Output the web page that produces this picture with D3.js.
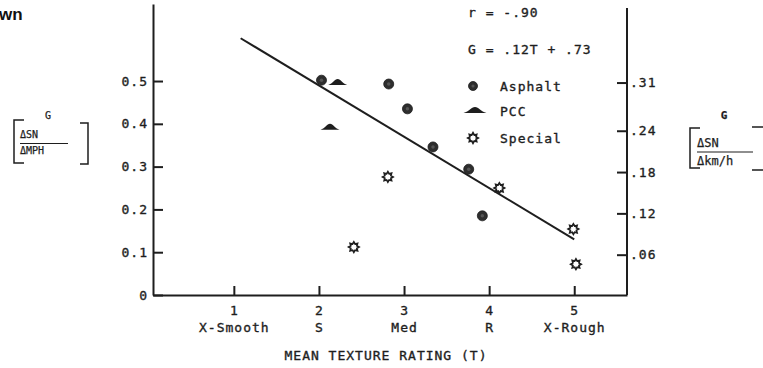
<!DOCTYPE html>
<html><head><meta charset="utf-8">
<script src="https://cdn.jsdelivr.net/npm/d3@7"></script>
<style>
html,body{margin:0;padding:0;background:#fff;}
svg{display:block;}
.t{font-family:"DejaVu Sans Mono",monospace;font-size:13px;letter-spacing:1px;fill:#1e1e1e;stroke:#1e1e1e;stroke-width:0.35px;}
.s{font-family:"DejaVu Sans Mono",monospace;fill:#1e1e1e;stroke:#1e1e1e;stroke-width:0.25px;}
</style></head>
<body>
<svg id="c" width="763" height="368"></svg>
<script>
// ---- data ----
const asphaltT = [2.03, 2.82, 3.04, 3.34, 3.76, 3.92];
const asphaltG = [0.502, 0.493, 0.435, 0.346, 0.294, 0.185];
const pccT = [2.22, 2.13];
const pccG = [0.498, 0.393];
const specialT = [2.41, 2.81, 4.12, 4.99, 5.02];
const specialG = [0.112, 0.276, 0.250, 0.154, 0.072];
const lineT = [1.08, 5.0];
const lineG = [0.600, 0.130];
const xTicks = [1, 2, 3, 4, 5];
const xCats = ["X-Smooth", "S", "Med", "R", "X-Rough"];
const yTicksLeft = [0, 0.1, 0.2, 0.3, 0.4, 0.5];
const yTicksRight = [0.06, 0.12, 0.18, 0.24, 0.31];
const legendNames = ["Asphalt", "PCC", "Special"];
const mphToKmh = 1.609;

const ink = "#1e1e1e";
const svg = d3.select("#c");

const x = d3.scaleLinear().domain([0.05, 5.62]).range([153, 627]);
const y = d3.scaleLinear().domain([0, 0.68]).range([295, 4]);
const yR = d3.scaleLinear().domain([0, 0.68 / mphToKmh]).range([295, 4]);

function styleAxis(g){
  g.selectAll("path.domain").attr("stroke", ink).attr("stroke-width", 2);
  g.selectAll(".tick line").attr("stroke", ink).attr("stroke-width", 2);
  g.selectAll(".tick text").attr("class","t").attr("fill", ink)
    .style("font-family","DejaVu Sans Mono").style("font-size","13px").style("letter-spacing","1px");
}

// left axis
const gL = svg.append("g").attr("transform", `translate(${x(0.05)},0)`)
  .call(d3.axisLeft(y).tickValues(yTicksLeft).tickSizeInner(-10).tickSizeOuter(0).tickPadding(5)
    .tickFormat(d => d === 0 ? "0" : d3.format(".1f")(d)));
styleAxis(gL);

// right axis
const gR = svg.append("g").attr("transform", `translate(${x(5.62)},${1})`)
  .call(d3.axisRight(yR).tickValues(yTicksRight).tickSizeInner(-10).tickSizeOuter(0).tickPadding(3)
    .tickFormat(d => d3.format(".2f")(d).replace(/^0/, "")));
styleAxis(gR);
gR.select("path.domain").attr("d", `M0,${yR(0)-1}V${yR(0.68/mphToKmh)+3}`);

// bottom axis
const gB = svg.append("g").attr("transform", `translate(0,${y(0)})`)
  .call(d3.axisBottom(x).tickValues(xTicks).tickSizeInner(-9).tickSizeOuter(0).tickPadding(11)
    .tickFormat(d3.format("d")));
styleAxis(gB);
gB.selectAll(".tick text").attr("dy", "0.71em");
gB.selectAll(".tick").append("text")
  .attr("class","t").attr("y", 28).attr("dy","0.71em").attr("text-anchor","middle")
  .attr("fill", ink)
  .text((d,i) => xCats[i]);

svg.append("text").attr("class","t").attr("x", 386).attr("y", 355)
  .attr("dominant-baseline","central").attr("text-anchor","middle")
  .text("MEAN TEXTURE RATING (T)");

// regression line
svg.append("line")
  .attr("x1", x(lineT[0])).attr("y1", y(lineG[0]))
  .attr("x2", x(lineT[1])).attr("y2", y(lineG[1]))
  .attr("stroke", ink).attr("stroke-width", 2);

// marker drawers
const domePath = (w,h) => `M${-w/2},0 C${-w/4},-1.5 ${-w/6},${-h} 0,${-h} C${w/6},${-h} ${w/4},-1.5 ${w/2},0 Z`;
const starPts = d3.range(16).map(i => [i * Math.PI * 2 / 16, i % 2 === 0 ? 5.2 : 3.3]);
const starPath = d3.lineRadial().curve(d3.curveLinearClosed)(starPts);

function asphalt(g, cx, cy, r){
  g.append("circle").attr("cx", cx).attr("cy", cy).attr("r", r).attr("fill", "#2e2e2e").attr("stroke", ink).attr("stroke-width", 0.8);
  g.append("circle").attr("cx", cx).attr("cy", cy).attr("r", r*0.35).attr("fill", "#555");
}
function pcc(g, cx, cy, w, h){
  g.append("path").attr("d", domePath(w,h)).attr("transform", `translate(${cx},${cy + h/2})`).attr("fill", ink);
}
function special(g, cx, cy){
  g.append("path").attr("d", starPath).attr("transform", `translate(${cx},${cy})`)
    .attr("fill", "#fff").attr("stroke", ink).attr("stroke-width", 1.7);
  g.append("circle").attr("cx", cx).attr("cy", cy).attr("r", 1.3).attr("fill", "#fff");
}

const gp = svg.append("g");
asphaltT.forEach((t,i) => asphalt(gp, x(t), y(asphaltG[i]), 5));
pccT.forEach((t,i) => pcc(gp, x(t), y(pccG[i]), 19, 6));
specialT.forEach((t,i) => special(gp, x(t), y(specialG[i])));

// annotations and legend
svg.append("text").attr("class","t").attr("x", 468).attr("y", 12).attr("dominant-baseline","central").text("r = -.90");
svg.append("text").attr("class","t").attr("x", 468).attr("y", 49).attr("dominant-baseline","central").text("G = .12T + .73");
const legY = [86, 111, 138];
asphalt(svg, 473, legY[0], 4.5);
pcc(svg, 475, legY[1] - 1, 23, 6);
special(svg, 473, legY[2]);
legendNames.forEach((n,i) => {
  svg.append("text").attr("class","t").attr("x", 500).attr("y", legY[i]).attr("dominant-baseline","central").text(n);
});

// fragment of title
svg.append("text").attr("x", -1).attr("y", 20)
  .style("font-family","Liberation Sans, Arial, sans-serif").style("font-weight","bold").style("font-size","17px")
  .attr("fill", "#111").text("wn");

// left axis label
const lab = svg.append("g");
lab.append("path").attr("d", "M24,120 H14 V163 H24").attr("fill","none").attr("stroke", ink).attr("stroke-width", 1.5);
lab.append("path").attr("d", "M80,123 H88 V164 H80").attr("fill","none").attr("stroke", ink).attr("stroke-width", 1.5);
lab.append("text").attr("class","s").attr("x", 48).attr("y", 115).attr("text-anchor","middle").attr("dominant-baseline","central")
  .style("font-size","10px").text("G");
lab.append("text").attr("class","s").attr("x", 20).attr("y", 134).attr("dominant-baseline","central")
  .style("font-size","10px").text("ΔSN");
lab.append("line").attr("x1", 20).attr("x2", 68).attr("y1", 143.5).attr("y2", 143.5).attr("stroke", ink).attr("stroke-width", 1);
lab.append("text").attr("class","s").attr("x", 20).attr("y", 150).attr("dominant-baseline","central")
  .style("font-size","10px").text("ΔMPH");

// right axis label
const lab2 = svg.append("g");
lab2.append("path").attr("d", "M700,128 H690 V168 H700").attr("fill","none").attr("stroke", ink).attr("stroke-width", 1.5);
lab2.append("path").attr("d", "M752,127 H764 M752,170 H764").attr("fill","none").attr("stroke", ink).attr("stroke-width", 1.5);
lab2.append("text").attr("class","s").attr("x", 724).attr("y", 115).attr("text-anchor","middle").attr("dominant-baseline","central")
  .style("font-size","11px").style("font-weight","bold").text("G");
lab2.append("text").attr("class","s").attr("x", 697).attr("y", 143).attr("dominant-baseline","central")
  .style("font-size","12px").text("ΔSN");
lab2.append("line").attr("x1", 697).attr("x2", 753).attr("y1", 152).attr("y2", 152).attr("stroke", ink).attr("stroke-width", 1.2);
lab2.append("text").attr("class","s").attr("x", 697).attr("y", 161).attr("dominant-baseline","central")
  .style("font-size","12px").text("Δkm/h");
</script>
</body></html>
